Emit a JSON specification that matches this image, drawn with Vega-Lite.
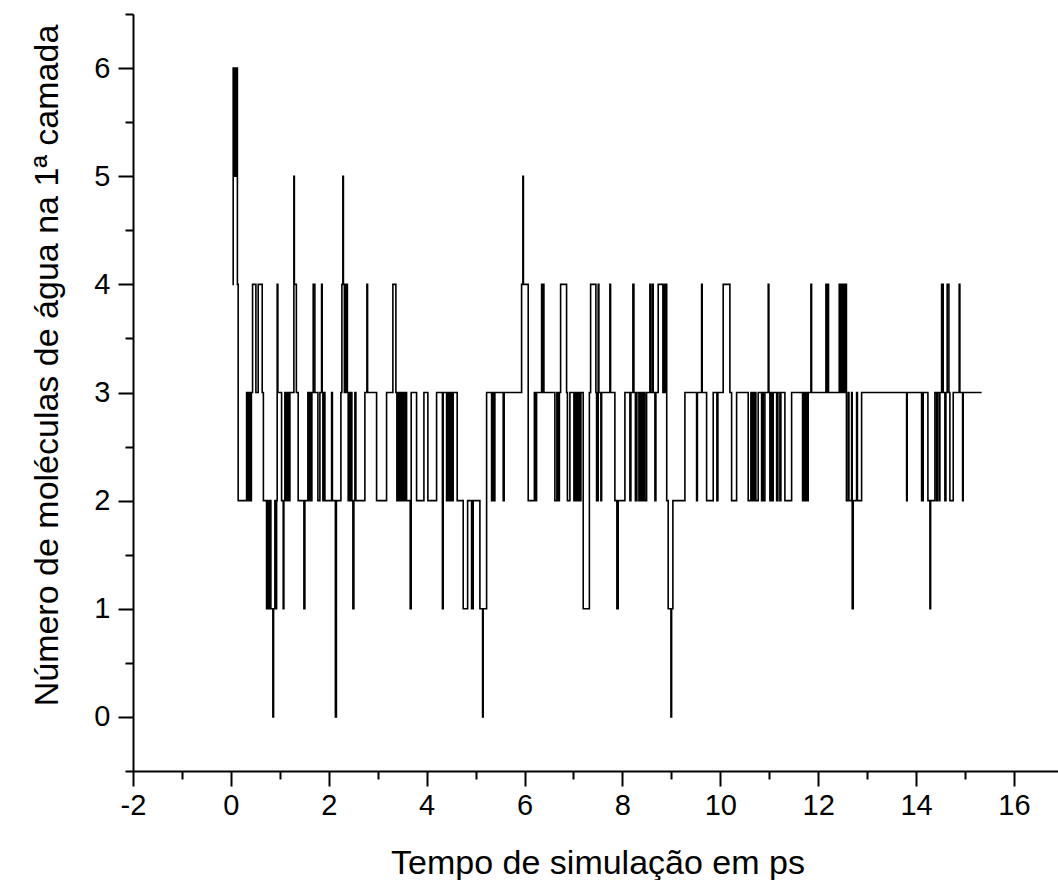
{
  "$schema": "https://vega.github.io/schema/vega-lite/v6.json",
  "width": 925,
  "height": 757,
  "autosize": {"type": "none"},
  "padding": {"left": 133, "top": 14, "right": 0, "bottom": 109},
  "background": "white",
  "config": {"view": {"stroke": null}, "font": "Liberation Sans"},
  "data": {"values": [
    {"t":0.031,"n":4},{"t":0.047,"n":6},{"t":0.061,"n":5},{"t":0.072,"n":6},{"t":0.082,"n":5},{"t":0.092,"n":6},{"t":0.102,"n":5},{"t":0.116,"n":6},{"t":0.133,"n":4},{"t":0.149,"n":2},
    {"t":0.321,"n":3},{"t":0.337,"n":2},{"t":0.353,"n":3},{"t":0.368,"n":2},{"t":0.388,"n":3},{"t":0.403,"n":2},{"t":0.419,"n":3},{"t":0.443,"n":4},{"t":0.511,"n":3},{"t":0.558,"n":4},
    {"t":0.640,"n":3},{"t":0.664,"n":2},{"t":0.729,"n":1},{"t":0.756,"n":2},{"t":0.770,"n":1},{"t":0.797,"n":2},{"t":0.817,"n":1},{"t":0.858,"n":0},{"t":0.872,"n":1},{"t":0.899,"n":2},
    {"t":0.913,"n":1},{"t":0.934,"n":2},{"t":0.946,"n":4},{"t":0.960,"n":3},{"t":1.036,"n":2},{"t":1.069,"n":1},{"t":1.083,"n":2},{"t":1.103,"n":3},{"t":1.124,"n":2},{"t":1.154,"n":3},
    {"t":1.175,"n":2},{"t":1.206,"n":3},{"t":1.287,"n":5},{"t":1.297,"n":4},{"t":1.338,"n":3},{"t":1.375,"n":2},{"t":1.492,"n":1},{"t":1.512,"n":2},{"t":1.573,"n":3},{"t":1.594,"n":2},
    {"t":1.614,"n":3},{"t":1.635,"n":2},{"t":1.655,"n":3},{"t":1.682,"n":4},{"t":1.716,"n":3},{"t":1.778,"n":2},{"t":1.819,"n":3},{"t":1.853,"n":4},{"t":1.866,"n":3},{"t":1.880,"n":2},
    {"t":1.900,"n":3},{"t":1.921,"n":2},{"t":2.058,"n":3},{"t":2.074,"n":2},{"t":2.135,"n":0},{"t":2.156,"n":2},{"t":2.248,"n":3},{"t":2.268,"n":4},{"t":2.288,"n":5},{"t":2.299,"n":4},
    {"t":2.319,"n":3},{"t":2.350,"n":4},{"t":2.380,"n":3},{"t":2.397,"n":2},{"t":2.411,"n":3},{"t":2.432,"n":2},{"t":2.452,"n":3},{"t":2.472,"n":2},{"t":2.493,"n":1},{"t":2.513,"n":2},
    {"t":2.534,"n":3},{"t":2.554,"n":2},{"t":2.738,"n":3},{"t":2.779,"n":4},{"t":2.793,"n":3},{"t":2.977,"n":2},{"t":3.181,"n":3},{"t":3.310,"n":4},{"t":3.371,"n":3},{"t":3.392,"n":2},
    {"t":3.412,"n":3},{"t":3.443,"n":2},{"t":3.463,"n":3},{"t":3.494,"n":2},{"t":3.515,"n":3},{"t":3.545,"n":2},{"t":3.566,"n":3},{"t":3.590,"n":2},{"t":3.664,"n":1},{"t":3.684,"n":3},
    {"t":3.794,"n":2},{"t":3.944,"n":3},{"t":4.025,"n":2},{"t":4.203,"n":3},{"t":4.322,"n":1},{"t":4.338,"n":3},{"t":4.407,"n":2},{"t":4.424,"n":3},{"t":4.444,"n":2},{"t":4.465,"n":3},
    {"t":4.485,"n":2},{"t":4.506,"n":3},{"t":4.526,"n":2},{"t":4.542,"n":3},{"t":4.624,"n":2},{"t":4.747,"n":1},{"t":4.837,"n":2},{"t":4.918,"n":1},{"t":4.951,"n":2},{"t":5.088,"n":1},
    {"t":5.143,"n":0},{"t":5.155,"n":1},{"t":5.225,"n":3},{"t":5.327,"n":2},{"t":5.353,"n":3},{"t":5.368,"n":2},{"t":5.394,"n":3},{"t":5.564,"n":2},{"t":5.584,"n":3},{"t":5.940,"n":4},
    {"t":5.966,"n":5},{"t":5.977,"n":4},{"t":6.075,"n":2},{"t":6.201,"n":3},{"t":6.222,"n":2},{"t":6.246,"n":3},{"t":6.349,"n":4},{"t":6.369,"n":3},{"t":6.381,"n":4},{"t":6.396,"n":3},
    {"t":6.620,"n":2},{"t":6.661,"n":3},{"t":6.682,"n":2},{"t":6.712,"n":3},{"t":6.737,"n":4},{"t":6.859,"n":3},{"t":6.876,"n":2},{"t":6.927,"n":3},{"t":7.009,"n":2},{"t":7.029,"n":3},
    {"t":7.049,"n":2},{"t":7.070,"n":3},{"t":7.090,"n":2},{"t":7.111,"n":3},{"t":7.131,"n":2},{"t":7.152,"n":3},{"t":7.199,"n":1},{"t":7.325,"n":3},{"t":7.350,"n":4},{"t":7.458,"n":3},
    {"t":7.472,"n":2},{"t":7.505,"n":4},{"t":7.519,"n":3},{"t":7.560,"n":2},{"t":7.575,"n":3},{"t":7.744,"n":4},{"t":7.758,"n":3},{"t":7.846,"n":2},{"t":7.887,"n":1},{"t":7.914,"n":2},
    {"t":8.051,"n":3},{"t":8.153,"n":2},{"t":8.173,"n":3},{"t":8.214,"n":4},{"t":8.235,"n":3},{"t":8.265,"n":2},{"t":8.296,"n":3},{"t":8.337,"n":2},{"t":8.367,"n":3},{"t":8.398,"n":2},
    {"t":8.429,"n":3},{"t":8.459,"n":2},{"t":8.494,"n":3},{"t":8.561,"n":4},{"t":8.576,"n":3},{"t":8.612,"n":4},{"t":8.629,"n":3},{"t":8.664,"n":2},{"t":8.684,"n":3},{"t":8.731,"n":4},
    {"t":8.827,"n":3},{"t":8.841,"n":4},{"t":8.862,"n":3},{"t":8.878,"n":4},{"t":8.905,"n":2},{"t":8.935,"n":1},{"t":8.991,"n":0},{"t":9.005,"n":1},{"t":9.031,"n":2},{"t":9.277,"n":3},
    {"t":9.516,"n":2},{"t":9.532,"n":3},{"t":9.618,"n":4},{"t":9.630,"n":3},{"t":9.720,"n":2},{"t":9.855,"n":3},{"t":9.930,"n":2},{"t":9.951,"n":3},{"t":10.059,"n":4},{"t":10.196,"n":3},
    {"t":10.231,"n":2},{"t":10.333,"n":3},{"t":10.570,"n":2},{"t":10.625,"n":3},{"t":10.646,"n":2},{"t":10.672,"n":3},{"t":10.693,"n":2},{"t":10.707,"n":3},{"t":10.727,"n":2},{"t":10.774,"n":3},
    {"t":10.844,"n":2},{"t":10.860,"n":3},{"t":10.877,"n":2},{"t":10.911,"n":3},{"t":10.979,"n":4},{"t":10.993,"n":3},{"t":11.013,"n":2},{"t":11.034,"n":3},{"t":11.054,"n":2},{"t":11.081,"n":3},
    {"t":11.151,"n":2},{"t":11.177,"n":3},{"t":11.218,"n":2},{"t":11.238,"n":3},{"t":11.320,"n":2},{"t":11.457,"n":3},{"t":11.681,"n":2},{"t":11.708,"n":3},{"t":11.729,"n":2},{"t":11.749,"n":3},
    {"t":11.770,"n":2},{"t":11.796,"n":3},{"t":11.851,"n":4},{"t":11.865,"n":3},{"t":12.158,"n":4},{"t":12.170,"n":3},{"t":12.199,"n":4},{"t":12.211,"n":3},{"t":12.430,"n":4},{"t":12.454,"n":3},
    {"t":12.474,"n":4},{"t":12.495,"n":3},{"t":12.515,"n":4},{"t":12.536,"n":3},{"t":12.552,"n":4},{"t":12.577,"n":2},{"t":12.613,"n":3},{"t":12.628,"n":2},{"t":12.683,"n":3},{"t":12.695,"n":1},
    {"t":12.716,"n":2},{"t":12.785,"n":3},{"t":12.802,"n":2},{"t":12.887,"n":3},{"t":13.807,"n":2},{"t":13.819,"n":3},{"t":14.113,"n":2},{"t":14.146,"n":3},{"t":14.242,"n":2},{"t":14.283,"n":1},
    {"t":14.297,"n":2},{"t":14.385,"n":3},{"t":14.420,"n":2},{"t":14.436,"n":3},{"t":14.473,"n":2},{"t":14.487,"n":3},{"t":14.522,"n":4},{"t":14.555,"n":3},{"t":14.589,"n":2},{"t":14.610,"n":3},
    {"t":14.636,"n":4},{"t":14.671,"n":3},{"t":14.691,"n":2},{"t":14.759,"n":3},{"t":14.881,"n":4},{"t":14.895,"n":3},{"t":14.951,"n":2},{"t":14.963,"n":3},{"t":15.339,"n":3}
  ]},
  "mark": {"type": "line", "interpolate": "step-after", "color": "black", "strokeWidth": 1.6},
  "encoding": {
    "x": {
      "field": "t", "type": "quantitative",
      "scale": {"domain": [-2, 16.9], "nice": false, "zero": false},
      "axis": {
        "values": [-2,-1,0,1,2,3,4,5,6,7,8,9,10,11,12,13,14,15,16],
        "grid": false,
        "domainColor": "black", "domainWidth": 2,
        "tickColor": "black", "tickWidth": 2,
        "tickSize": {"condition": {"test": "datum.value % 2 === 0", "value": 15}, "value": 8},
        "labelExpr": "datum.value % 2 === 0 ? toString(datum.value) : ''",
        "labelFont": "Liberation Sans", "labelFontSize": 29, "labelColor": "black",
        "labelPadding": 5, "labelFlush": false, "labelOverlap": false,
        "title": "Tempo de simulação em ps",
        "titleFont": "Liberation Sans", "titleFontSize": 34, "titleFontWeight": "normal", "titleColor": "black",
        "titleX": 464.5, "titleY": 102, "titleBaseline": "alphabetic", "titleAlign": "center"
      }
    },
    "y": {
      "field": "n", "type": "quantitative",
      "scale": {"domain": [-0.5, 6.5], "nice": false, "zero": false},
      "axis": {
        "values": [-0.5,0,0.5,1,1.5,2,2.5,3,3.5,4,4.5,5,5.5,6,6.5],
        "grid": false,
        "domainColor": "black", "domainWidth": 2,
        "tickColor": "black", "tickWidth": 2,
        "tickSize": {"condition": {"test": "datum.value % 1 === 0", "value": 15}, "value": 8},
        "labelExpr": "datum.value % 1 === 0 ? toString(datum.value) : ''",
        "labelFont": "Liberation Sans", "labelFontSize": 29, "labelColor": "black",
        "labelPadding": 8, "labelFlush": false, "labelOverlap": false,
        "title": "Número de moléculas de água na 1ª camada",
        "titleFont": "Liberation Sans", "titleFontSize": 34, "titleFontWeight": "normal", "titleColor": "black",
        "titleAngle": -90, "titleX": -76, "titleY": 351, "titleBaseline": "alphabetic", "titleAlign": "center"
      }
    }
  }
}
